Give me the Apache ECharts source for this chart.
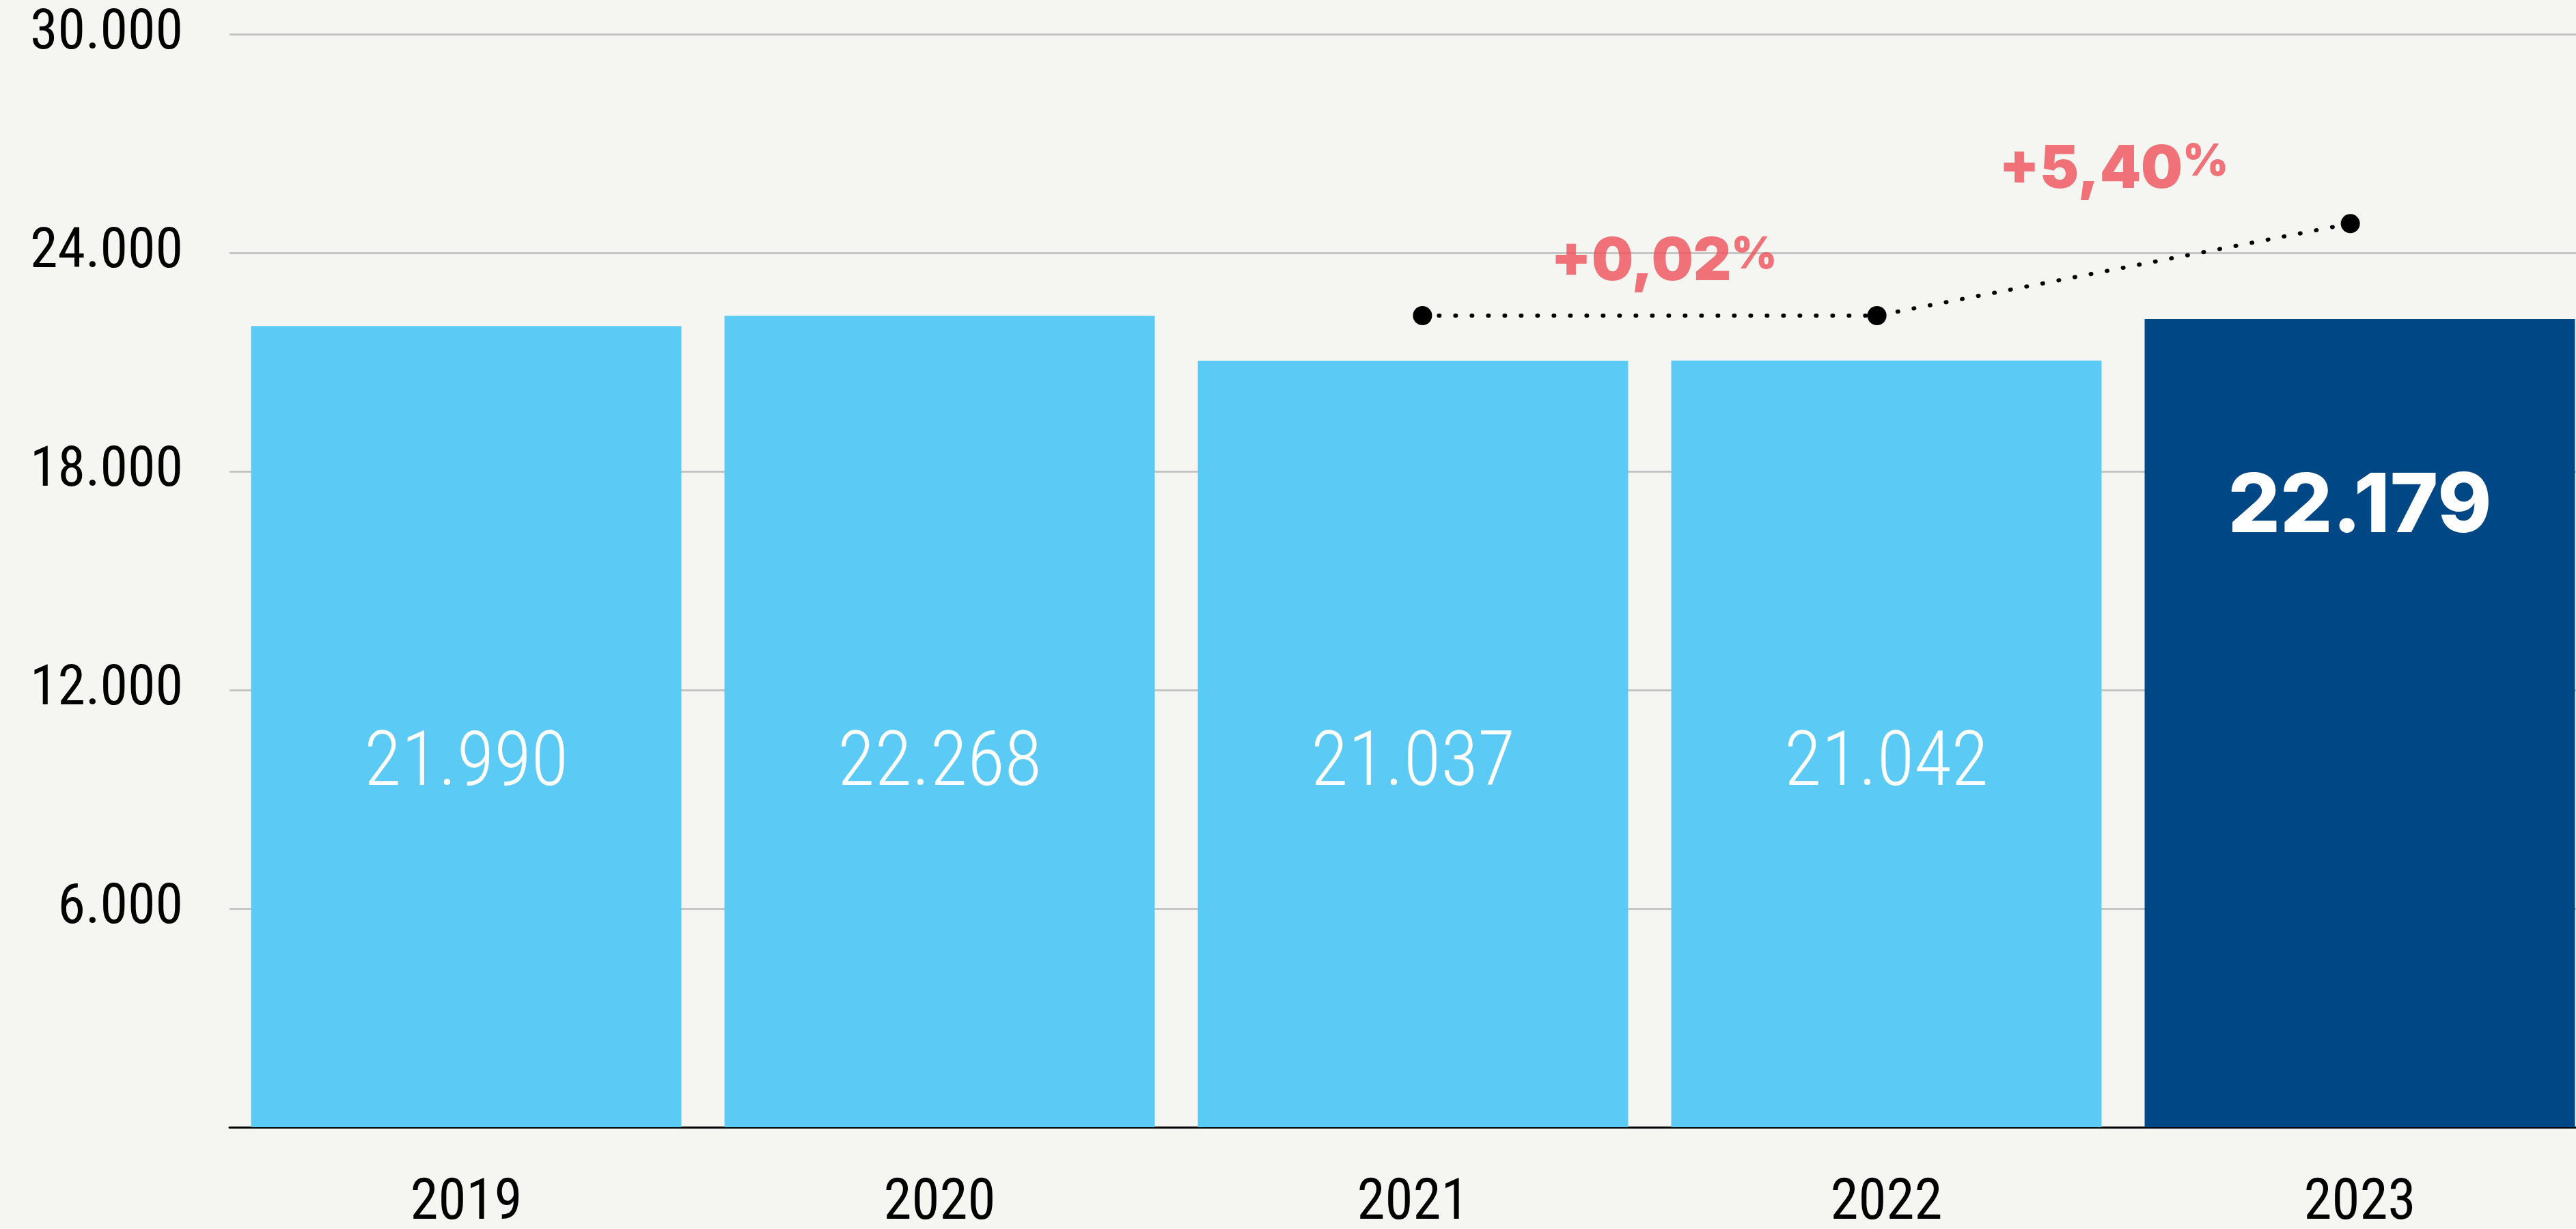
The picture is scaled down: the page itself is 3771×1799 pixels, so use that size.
<!DOCTYPE html>
<html>
<head>
<meta charset="utf-8">
<script src="https://cdn.jsdelivr.net/npm/echarts@6/dist/echarts.min.js"></script>
<style>
  html, body { margin: 0; padding: 0; background: #f5f6f2; }
  #chart { width: 3771px; height: 1799px; }
</style>
</head>
<body>
<div id="chart"></div>
<script>
// chart data
const years = ['2019', '2020', '2021', '2022', '2023']
const values = [21990, 22268, 21037, 21042, 22179]
const yTicks = [0, 6000, 12000, 18000, 24000, 30000]

// dotted trend annotation (x in category units, centre of band i = i + 0.5)
const trendX = [2.52, 3.48, 4.48]
const trendY = [22275, 22275, 24800]
const changeLabels = ['+0,02', '+5,40']
const changeX = [3.03, 3.98]
const changeY = [23730, 26270]

const narrow = "'Roboto Condensed', Roboto, sans-serif"

const fmt = v => String(v).replace(/\B(?=(\d{3})+(?!\d))/g, '.')

const chart = echarts.init(document.getElementById('chart'), null, { renderer: 'canvas' })

const barData = values.map((v, i) => {
  if (i === values.length - 1) {
    return {
      value: v,
      itemStyle: { color: '#004786' },
      label: {
        position: 'insideTop',
        distance: 276,
        verticalAlign: 'middle',
        fontFamily: 'Inter',
        fontWeight: 800,
        fontSize: 120
      }
    }
  }
  return v
})

const option = {
  backgroundColor: '#f5f6f2',
  animation: false,
  grid: { left: 336, top: 50, width: 3465, height: 1600, outerBoundsMode: 'none', containLabel: false },
  xAxis: [
    {
      type: 'category',
      data: years,
      axisLine: { lineStyle: { color: '#000', width: 3 } },
      axisTick: { show: false },
      axisLabel: { color: '#000', fontFamily: narrow, fontSize: 83, margin: 72 }
    },
    { type: 'value', min: 0, max: years.length, show: false }
  ],
  yAxis: {
    type: 'value',
    min: yTicks[0],
    max: yTicks[yTicks.length - 1],
    interval: yTicks[1] - yTicks[0],
    axisLine: { show: false },
    axisTick: { show: false },
    splitLine: { lineStyle: { color: '#c4c4c4', width: 3 } },
    axisLabel: {
      color: '#000',
      fontFamily: narrow,
      fontSize: 82,
      margin: 68,
      formatter: v => (v === 0 ? '' : fmt(v))
    }
  },
  series: [
    {
      type: 'bar',
      data: barData,
      barCategoryGap: '9.1%',
      itemStyle: { color: '#5bcbf5' },
      label: {
        show: true,
        position: 'insideBottom',
        distance: 529,
        verticalAlign: 'middle',
        color: '#fff',
        fontFamily: narrow,
        fontWeight: 300,
        fontSize: 112,
        formatter: p => fmt(p.value)
      },
      z: 2
    },
    {
      type: 'line',
      xAxisIndex: 1,
      data: trendX.map((x, i) => [x, trendY[i]]),
      symbol: 'circle',
      symbolSize: 28,
      itemStyle: { color: '#000' },
      lineStyle: { color: '#000', width: 6, type: [1, 23], cap: 'round' },
      z: 5
    },
    {
      type: 'scatter',
      xAxisIndex: 1,
      data: changeX.map((x, i) => [x, changeY[i], changeLabels[i]]),
      symbolSize: 0,
      label: {
        show: true,
        position: 'inside',
        formatter: p => '{a|' + p.value[2] + '}{b|%}',
        rich: {
          a: { color: '#ef5057', fontFamily: 'Inter', fontWeight: 900, fontSize: 86 },
          b: { color: '#ef5057', fontFamily: 'Inter', fontWeight: 900, fontSize: 64, verticalAlign: 'top' }
        }
      },
      z: 6
    }
  ]
}

chart.setOption(option)
</script>
</body>
</html>
